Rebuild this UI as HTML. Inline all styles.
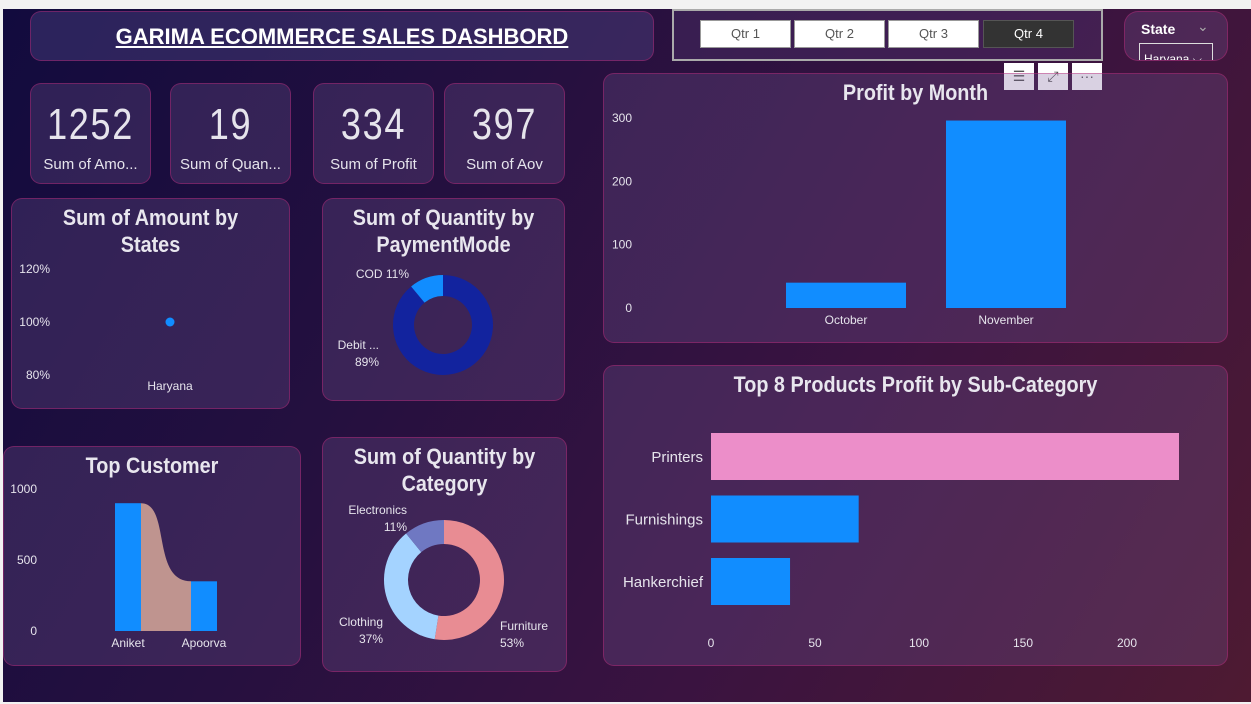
<!DOCTYPE html>
<html><head><meta charset="utf-8"><style>
html,body{margin:0;padding:0;}
body{width:1251px;height:704px;position:relative;overflow:hidden;background:#f2f2f2;font-family:"Liberation Sans",sans-serif;}
#bg{position:absolute;left:3px;top:9px;width:1248px;height:693px;background:linear-gradient(120deg,#120b3e 0%,#25103f 35%,#3a1340 65%,#4e1a32 100%);}
.panel{position:absolute;background:rgba(120,90,150,0.28);border:1px solid rgba(190,40,120,0.45);border-radius:11px;box-sizing:border-box;}
.ttl{position:absolute;left:-20px;right:-20px;text-align:center;color:#e8e6ee;font-size:22px;font-weight:bold;line-height:27px;transform:scaleX(0.9);}
.kv{position:absolute;left:-20px;right:-20px;top:16px;text-align:center;color:#e6e4ec;font-size:44px;letter-spacing:2px;transform:scaleX(0.82);}
.kl{position:absolute;left:0;right:0;top:72px;text-align:center;color:#e6e4ec;font-size:15px;}
svg text{font-family:"Liberation Sans",sans-serif;fill:#e6e4ec;}
.btn{position:absolute;top:20px;width:91px;height:28px;box-sizing:border-box;border:1px solid #999;background:#fff;color:#555;font-size:13px;text-align:center;line-height:26px;}
.ic{position:absolute;top:63px;width:30px;height:27px;background:#fff;color:#555;font-size:14px;text-align:center;line-height:27px;}
</style></head><body>
<div id="bg"></div>
<div class="panel" style="left:30px;top:11px;width:624px;height:50px;background:rgba(90,80,150,0.35)">
<div style="position:absolute;left:0;right:0;top:12px;text-align:center;color:#fff;font-size:22px;font-weight:bold;text-decoration:underline;">GARIMA ECOMMERCE SALES DASHBORD</div></div>

<div style="position:absolute;left:672px;top:9px;width:431px;height:52px;border:2px solid #aaa;box-sizing:border-box;background:rgba(80,50,110,0.4)"></div>
<div class="btn" style="left:700px">Qtr 1</div>
<div class="btn" style="left:794px">Qtr 2</div>
<div class="btn" style="left:888px">Qtr 3</div>
<div class="btn" style="left:983px;background:#333;color:#fff;border-color:#555">Qtr 4</div>

<div class="panel" style="left:1124px;top:11px;width:104px;height:50px;overflow:hidden;border-radius:14px">
<div style="position:absolute;left:16px;top:9px;color:#fff;font-size:14px;font-weight:bold">State</div>
<div style="position:absolute;left:72px;top:6px;color:#aaa;font-size:14px">&#8964;</div>
<div style="position:absolute;left:14px;top:31px;width:74px;height:24px;border:1px solid #ddd;color:#fff;font-size:12px;padding:8px 0 0 4px;box-sizing:border-box">Haryana ⌵</div></div>

<div class="ic" style="left:1004px">☰</div>
<div class="ic" style="left:1038px">⤢</div>
<div class="ic" style="left:1072px">···</div>

<div class="panel" style="left:30px;top:83px;width:121px;height:101px"><div class="kv">1252</div><div class="kl">Sum of Amo...</div></div>
<div class="panel" style="left:170px;top:83px;width:121px;height:101px"><div class="kv">19</div><div class="kl">Sum of Quan...</div></div>
<div class="panel" style="left:313px;top:83px;width:121px;height:101px"><div class="kv">334</div><div class="kl">Sum of Profit</div></div>
<div class="panel" style="left:444px;top:83px;width:121px;height:101px"><div class="kv">397</div><div class="kl">Sum of Aov</div></div>

<div class="panel" style="left:11px;top:198px;width:279px;height:211px"><div class="ttl" style="top:5px">Sum of Amount by<br>States</div></div>
<div class="panel" style="left:322px;top:198px;width:243px;height:203px"><div class="ttl" style="top:5px">Sum of Quantity by<br>PaymentMode</div></div>
<div class="panel" style="left:3px;top:446px;width:298px;height:220px"><div class="ttl" style="top:5px">Top Customer</div></div>
<div class="panel" style="left:322px;top:437px;width:245px;height:235px"><div class="ttl" style="top:5px">Sum of Quantity by<br>Category</div></div>
<div class="panel" style="left:603px;top:73px;width:625px;height:270px"><div class="ttl" style="top:5px">Profit by Month</div></div>
<div class="panel" style="left:603px;top:365px;width:625px;height:301px"><div class="ttl" style="top:5px">Top 8 Products Profit by Sub-Category</div></div>

<svg id="charts" width="1251" height="704" style="position:absolute;left:0;top:0"></svg>
<script>
// Profit by month
const monthCats=["October","November"];
const monthProfit=[40,296];
const monthTicks=[0,100,200,300];
// Sub-category
const subCats=["Printers","Furnishings","Hankerchief"];
const subProfit=[225,71,38];
const subTicks=[0,50,100,150,200];
// Top customer
const custNames=["Aniket","Apoorva"];
const custValues=[900,350];
const custTicks=[0,500,1000];
// States
const stateNames=["Haryana"];
const statePct=[100];
const stateTicks=[80,100,120];
// Payment mode
const payModes=["COD","Debit ..."];
const payPct=[11,89];
// Category
const catNames=["Furniture","Clothing","Electronics"];
const catPct=[53,37,11];

const S=document.getElementById('charts');
const NS='http://www.w3.org/2000/svg';
function mk(t,a,txt){const e=document.createElementNS(NS,t);for(const k in a)e.setAttribute(k,a[k]);if(txt!=null)e.textContent=txt;S.appendChild(e);return e;}

// Profit by month
const myS=v=>308-v*(190/300);
monthTicks.forEach(t=>{const e=mk('text',{x:632,y:myS(t)+4,'font-size':12,'text-anchor':'end'},t);

});
const monthX=[786,946];
monthCats.forEach((c,i)=>{const b=mk('rect',{x:monthX[i],y:myS(monthProfit[i]),width:120,height:myS(0)-myS(monthProfit[i]),fill:'#118dff'});


const l=mk('text',{x:monthX[i]+60,y:324,'font-size':12,'text-anchor':'middle'},c);

});

// Sub-category
const sx=v=>711+v*(416/200);
subTicks.forEach(t=>{const e=mk('text',{x:sx(t),y:647,'font-size':12,'text-anchor':'middle'},t);

});
subCats.forEach((c,i)=>{const y=433+i*62.5;
const b=mk('rect',{x:sx(0),y:y,width:sx(subProfit[i])-sx(0),height:47,fill:i==0?'#ec8ec9':'#118dff'});


const l=mk('text',{x:703,y:y+29,'font-size':15,'text-anchor':'end'},c);

});

// Top customer
const cy=v=>631-v*(142/1000);
custTicks.forEach(t=>{const e=mk('text',{x:37,y:cy(t)+4,'font-size':12,'text-anchor':'end'},t);

});
const cx=[115,191],bw=26;
const rb=mk('path',{d:`M${cx[0]+bw},${cy(custValues[0])} C${cx[0]+bw+30},${cy(custValues[0])} ${cx[1]-40},${cy(custValues[1])} ${cx[1]},${cy(custValues[1])} L${cx[1]},${cy(0)} L${cx[0]+bw},${cy(0)} Z`,fill:'#bf948f'});


custNames.forEach((c,i)=>{const b=mk('rect',{x:cx[i],y:cy(custValues[i]),width:bw,height:cy(0)-cy(custValues[i]),fill:'#118dff'});


const l=mk('text',{x:cx[i]+bw/2,y:647,'font-size':12,'text-anchor':'middle'},c);

});

// States
const py=v=>322-(v-100)*(53/20);
stateTicks.forEach(t=>{const e=mk('text',{x:50,y:py(t)+4,'font-size':12,'text-anchor':'end'},t+'%');

});
stateNames.forEach((s,i)=>{const d=mk('circle',{cx:170,cy:py(statePct[i]),r:4.5,fill:'#118dff'});


const l=mk('text',{x:170,y:390,'font-size':12,'text-anchor':'middle'},s);

});

// donut helper
function donut(cxp,cyp,ro,ri,vals,cols,names){const tot=vals.reduce((a,b)=>a+b,0);let a0=0;
vals.forEach((v,i)=>{const a1=a0+v/tot*2*Math.PI;const la=(a1-a0)>Math.PI?1:0;
const p=(r,a)=>[cxp+r*Math.sin(a),cyp-r*Math.cos(a)];
const [x1,y1]=p(ro,a0),[x2,y2]=p(ro,a1),[x3,y3]=p(ri,a1),[x4,y4]=p(ri,a0);
const s=mk('path',{d:`M${x1},${y1} A${ro},${ro} 0 ${la} 1 ${x2},${y2} L${x3},${y3} A${ri},${ri} 0 ${la} 0 ${x4},${y4} Z`,fill:cols[i]});


a0=a1;});}

donut(443,325,50,29,[payPct[1],payPct[0]],['#12239e','#118dff'],[payModes[1],payModes[0]]);
let t1=mk('text',{x:409,y:278,'font-size':12,'text-anchor':'end'},payModes[0]+' '+payPct[0]+'%');


let t2=mk('text',{x:379,y:349,'font-size':12,'text-anchor':'end'},payModes[1]);


let t3=mk('text',{x:379,y:366,'font-size':12,'text-anchor':'end'},payPct[1]+'%');



donut(444,580,60,36,catPct,['#e88c93','#a4d3ff','#6f78c2'],catNames);
const catLab=[[500,630,'start'],[383,626,'end'],[407,514,'end']];
catNames.forEach((c,i)=>{const [x,y,an]=catLab[i];
const a=mk('text',{x:x,y:y,'font-size':12,'text-anchor':an},c);


const b=mk('text',{x:x,y:y+17,'font-size':12,'text-anchor':an},catPct[i]+'%');

});
</script>
</body></html>
